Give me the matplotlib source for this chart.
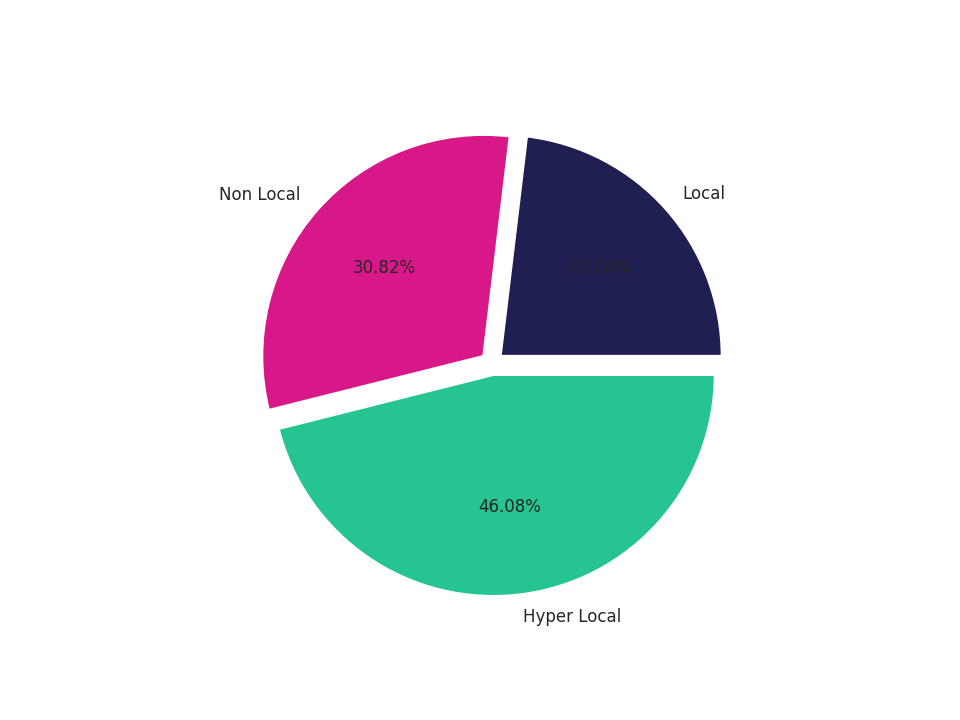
import matplotlib
matplotlib.use('Agg')
import matplotlib.pyplot as plt

labels = ['Local', 'Non Local', 'Hyper Local']
shares = [23.10, 30.82, 46.08]
colors = ['#1f1f52', '#d81888', '#25c492']
explode = [0.05, 0.05, 0.05]

plt.rcParams['text.color'] = '#262626'
fig, ax = plt.subplots(figsize=(9.6, 7.2), dpi=100)
ax.pie(shares, labels=labels, colors=colors, explode=explode,
       autopct='%.2f%%', textprops={'fontsize': 12, 'color': '#262626'},
       wedgeprops={'edgecolor': 'white', 'linewidth': 2})
fig.savefig('out.png')
